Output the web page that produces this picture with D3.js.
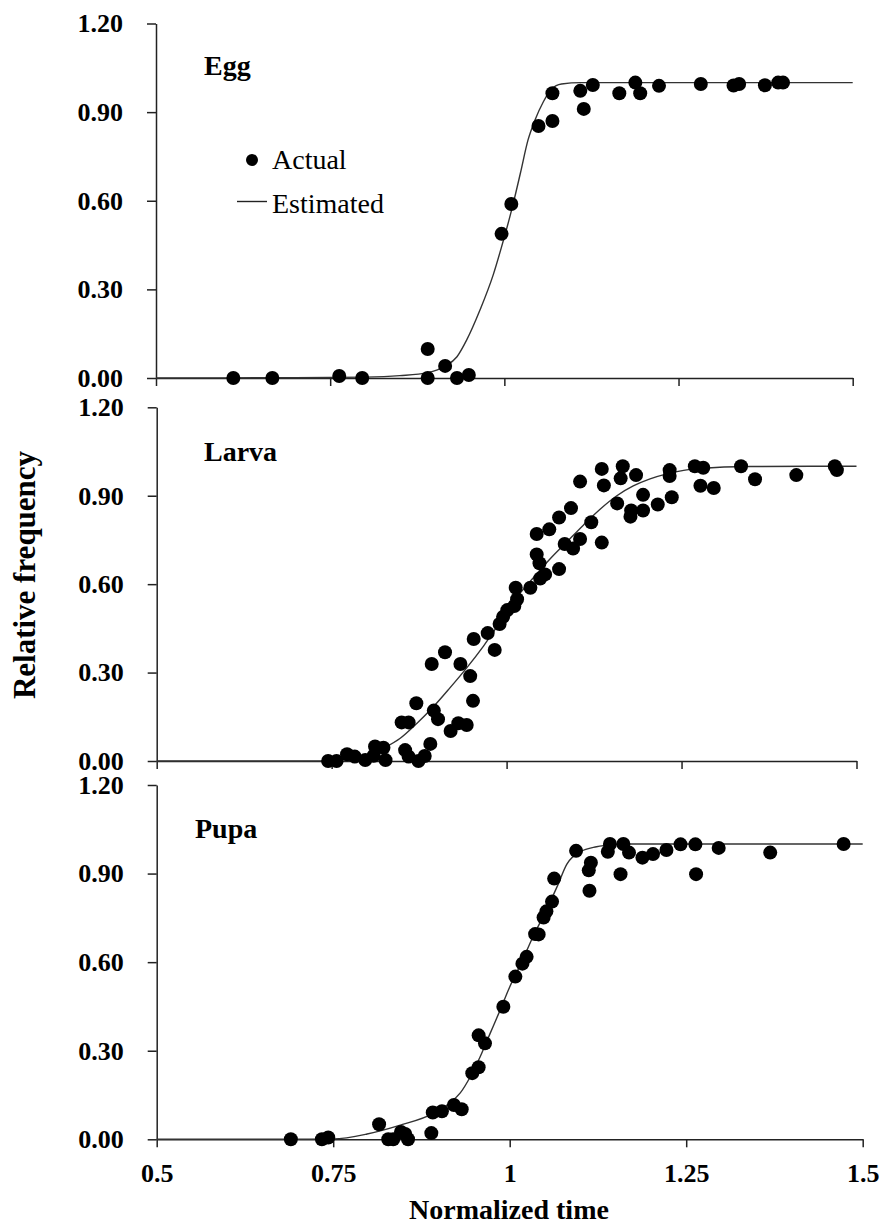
<!DOCTYPE html>
<html>
<head>
<meta charset="utf-8">
<script src="https://cdn.jsdelivr.net/npm/d3@7"></script>
<style>
  body { margin: 0; background: #fff; }
  svg { display: block; }
</style>
</head>
<body>
<div id="chart"></div>
<script>
const w = 885;
const h = 1227;

// shared axis ticks
const xTicks = [0.5, 0.75, 1, 1.25, 1.5];
const xTickLabels = ["0.5", "0.75", "1", "1.25", "1.5"];
const yTicks = [0, 0.3, 0.6, 0.9, 1.2];

// Egg - observed points
const eggX = [0.611, 0.667, 0.763, 0.796, 0.890, 0.890, 0.915, 0.932, 0.949, 0.996, 1.010, 1.049, 1.069, 1.069,
    1.109, 1.114, 1.127, 1.165, 1.188, 1.195, 1.222, 1.282, 1.329, 1.337, 1.374, 1.393, 1.400];
const eggY = [0, 0, 0.007, 0, 0.098, 0, 0.041, 0, 0.010, 0.488, 0.589, 0.853, 0.870, 0.964,
    0.972, 0.911, 0.992, 0.964, 1.0, 0.964, 0.989, 0.995, 0.990, 0.995, 0.991, 1.0, 1.0];
// Egg - estimated curve
const eggCurveX = [0.5, 0.7, 0.8, 0.85, 0.89, 0.915, 0.932, 0.946, 0.965, 0.984, 0.996, 1.011, 1.023, 1.034,
    1.044, 1.056, 1.068, 1.082, 1.11, 1.2, 1.5];
const eggCurveY = [0, 0.001, 0.003, 0.008, 0.018, 0.04, 0.072, 0.129, 0.23, 0.349, 0.444, 0.574, 0.693, 0.806,
    0.873, 0.935, 0.978, 0.995, 1.0, 1.0, 1.0];

// Larva - observed points
const larvaX = [0.745, 0.757, 0.772, 0.783, 0.798, 0.810, 0.812, 0.824, 0.827, 0.850, 0.860, 0.855, 0.860, 0.874,
    0.883, 0.891, 0.871, 0.893, 0.912, 0.896, 0.902, 0.920, 0.931, 0.943, 0.934, 0.948, 0.952, 0.953,
    0.973, 0.983, 0.990, 0.995, 1.001, 1.011, 1.015, 1.013, 1.034, 1.043, 1.047, 1.048, 1.055, 1.043,
    1.061, 1.075, 1.092, 1.075, 1.083, 1.095, 1.105, 1.121, 1.105, 1.136, 1.139, 1.136, 1.166, 1.163,
    1.185, 1.158, 1.177, 1.178, 1.195, 1.195, 1.216, 1.233, 1.233, 1.236, 1.269, 1.281, 1.277, 1.296,
    1.335, 1.355, 1.414, 1.469, 1.472];
const larvaY = [0, 0, 0.023, 0.015, 0.003, 0.018, 0.049, 0.045, 0.003, 0.131, 0.131, 0.037, 0.015, 0,
    0.017, 0.058, 0.196, 0.329, 0.369, 0.171, 0.142, 0.102, 0.128, 0.122, 0.329, 0.288, 0.204, 0.414,
    0.434, 0.377, 0.465, 0.489, 0.512, 0.526, 0.549, 0.588, 0.588, 0.701, 0.671, 0.619, 0.633, 0.770,
    0.786, 0.826, 0.858, 0.651, 0.736, 0.721, 0.753, 0.810, 0.948, 0.991, 0.935, 0.741, 1.0, 0.959,
    0.970, 0.874, 0.829, 0.850, 0.903, 0.850, 0.870, 0.987, 0.967, 0.895, 1.0, 0.995, 0.934, 0.926,
    1.0, 0.956, 0.970, 1.0, 0.987];
// Larva - estimated curve
const larvaCurveX = [0.5, 0.705, 0.762, 0.8, 0.824, 0.848, 0.872, 0.895, 0.919, 0.943, 0.967, 0.991, 1.014,
    1.038, 1.062, 1.086, 1.110, 1.134, 1.157, 1.181, 1.205, 1.229, 1.253, 1.276, 1.348, 1.5];
const larvaCurveY = [0, 0, 0.003, 0.015, 0.043, 0.077, 0.128, 0.183, 0.248, 0.316, 0.390, 0.472, 0.553,
    0.621, 0.685, 0.743, 0.801, 0.855, 0.899, 0.933, 0.957, 0.974, 0.986, 0.992, 0.999, 1.0];

// Pupa - observed points
const pupaX = [0.690, 0.734, 0.743, 0.815, 0.828, 0.835, 0.846, 0.852, 0.856, 0.889, 0.891, 0.904, 0.921, 0.932,
    0.947, 0.956, 0.956, 0.965, 0.991, 1.008, 1.018, 1.024, 1.036, 1.041, 1.048, 1.052, 1.060, 1.063,
    1.094, 1.112, 1.115, 1.113, 1.139, 1.142, 1.157, 1.161, 1.169, 1.188, 1.203, 1.222, 1.242, 1.263,
    1.264, 1.296, 1.369, 1.473];
const pupaY = [0, 0, 0.006, 0.051, 0, 0, 0.025, 0.018, 0, 0.021, 0.091, 0.095, 0.116, 0.102,
    0.224, 0.244, 0.352, 0.325, 0.449, 0.551, 0.595, 0.618, 0.695, 0.694, 0.751, 0.772, 0.805, 0.883,
    0.977, 0.911, 0.937, 0.842, 0.974, 1.0, 0.898, 1.0, 0.971, 0.954, 0.966, 0.980, 0.999, 0.999,
    0.898, 0.987, 0.971, 1.0];
// Pupa - estimated curve
const pupaCurveX = [0.5, 0.703, 0.750, 0.798, 0.845, 0.892, 0.915, 0.930, 0.944, 0.958, 0.972, 0.986, 1.000,
    1.015, 1.033, 1.052, 1.067, 1.081, 1.100, 1.123, 1.147, 1.170, 1.5];
const pupaCurveY = [0, 0, 0.001, 0.018, 0.048, 0.088, 0.123, 0.157, 0.211, 0.279, 0.357, 0.435, 0.516,
    0.590, 0.686, 0.777, 0.855, 0.932, 0.974, 0.991, 0.998, 1.0, 1.0];

const serif = "'Liberation Serif', 'Times New Roman', Times, serif";

const panels = [
    { name: "Egg", ax: eggX, ay: eggY, cx: eggCurveX, cy: eggCurveY,
      left: 156, right: 852.7, top: 23.5, bottom: 378, lx: 204, ly: 75, showX: false, legend: true },
    { name: "Larva", ax: larvaX, ay: larvaY, cx: larvaCurveX, cy: larvaCurveY,
      left: 156.7, right: 856.5, top: 407.3, bottom: 761, lx: 204, ly: 461, showX: false, legend: false },
    { name: "Pupa", ax: pupaX, ay: pupaY, cx: pupaCurveX, cy: pupaCurveY,
      left: 156.7, right: 862.7, top: 785, bottom: 1139.3, lx: 195, ly: 838, showX: true, legend: false }
];

const svg = d3.select("#chart")
    .append("svg")
    .attr("width", w)
    .attr("height", h);

svg.append("rect")
    .attr("width", w)
    .attr("height", h)
    .attr("fill", "#fff");

panels.forEach(function(p) {
    var x = d3.scaleLinear().domain([0.5, 1.5]).range([p.left, p.right]);
    var y = d3.scaleLinear().domain([0, 1.2]).range([p.bottom, p.top]);

    var g = svg.append("g");

    // y axis
    var yAxis = d3.axisLeft(y)
        .tickValues(yTicks)
        .tickFormat(d3.format(".2f"))
        .tickSize(9)
        .tickSizeOuter(0)
        .tickPadding(24);
    var ya = g.append("g")
        .attr("transform", "translate(" + p.left + ",0)")
        .call(yAxis);

    // x axis
    var xAxis = d3.axisBottom(x)
        .tickValues(xTicks)
        .tickSize(8)
        .tickSizeOuter(0)
        .tickPadding(16)
        .tickFormat(function(d, i) { return p.showX ? xTickLabels[i] : ""; });
    var xa = g.append("g")
        .attr("transform", "translate(0," + p.bottom + ")")
        .call(xAxis);

    [ya, xa].forEach(function(a) {
        a.select(".domain").attr("stroke", "#222").attr("stroke-width", 1.5);
        a.selectAll(".tick line").attr("stroke", "#222").attr("stroke-width", 1.5);
        a.selectAll(".tick text")
            .attr("fill", "#000")
            .style("font-family", serif)
            .style("font-weight", "bold")
            .style("font-size", "26px");
    });

    // estimated curve
    var curvePts = p.cx.map(function(d, i) { return [d, p.cy[i]]; });
    var line = d3.line()
        .x(function(d) { return x(d[0]); })
        .y(function(d) { return y(d[1]); })
        .curve(d3.curveMonotoneX);
    g.append("path")
        .datum(curvePts)
        .attr("d", line)
        .attr("fill", "none")
        .attr("stroke", "#333")
        .attr("stroke-width", 1.4);

    // observed points
    var pts = p.ax.map(function(d, i) { return [d, p.ay[i]]; });
    g.selectAll("circle.pt")
        .data(pts)
        .enter()
        .append("circle")
        .attr("class", "pt")
        .attr("cx", function(d) { return x(d[0]); })
        .attr("cy", function(d) { return y(d[1]); })
        .attr("r", 7)
        .attr("fill", "#000");

    // stage label
    g.append("text")
        .attr("x", p.lx)
        .attr("y", p.ly)
        .style("font-family", serif)
        .style("font-weight", "bold")
        .style("font-size", "28px")
        .text(p.name);

    if (p.legend) {
        var lg = g.append("g");
        lg.append("circle")
            .attr("cx", 252).attr("cy", 160).attr("r", 6)
            .attr("fill", "#000");
        lg.append("text")
            .attr("x", 272).attr("y", 169)
            .style("font-family", serif)
            .style("font-size", "28px")
            .text("Actual");
        lg.append("line")
            .attr("x1", 237).attr("x2", 267)
            .attr("y1", 201.5).attr("y2", 201.5)
            .attr("stroke", "#222").attr("stroke-width", 1.4);
        lg.append("text")
            .attr("x", 272).attr("y", 213)
            .style("font-family", serif)
            .style("font-size", "28px")
            .text("Estimated");
    }
});

// axis titles
svg.append("text")
    .attr("transform", "translate(35,575) rotate(-90)")
    .attr("text-anchor", "middle")
    .style("font-family", serif)
    .style("font-weight", "bold")
    .style("font-size", "31px")
    .text("Relative frequency");

svg.append("text")
    .attr("x", 509)
    .attr("y", 1219)
    .attr("text-anchor", "middle")
    .style("font-family", serif)
    .style("font-weight", "bold")
    .style("font-size", "28px")
    .text("Normalized time");
</script>
</body>
</html>
